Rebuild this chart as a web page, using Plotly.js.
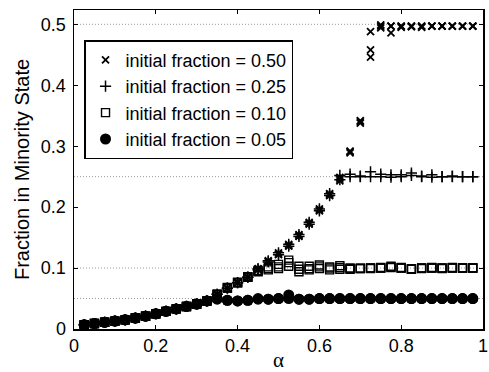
<!DOCTYPE html>
<html>
<head>
<meta charset="utf-8">
<script src="https://cdn.plot.ly/plotly-3.0.1.min.js"></script>
<style>
html,body{margin:0;padding:0;background:#fff;}
#chart{width:489px;height:372px;}
</style>
</head>
<body>
<div id="chart"></div>
<script>
// alpha values (x axis)
const alpha = [0.025,0.05,0.075,0.1,0.125,0.15,0.175,0.2,0.225,0.25,0.275,0.3,0.325,0.35,0.375,0.4,0.425,0.45,0.475,0.5,0.525,0.55,0.575,0.6,0.625,0.65,0.675,0.7,0.725,0.75,0.775,0.8,0.825,0.85,0.875,0.9,0.925,0.95,0.975];

// initial fraction = 0.50 (three runs)
const frac50_run1 = [0.007,0.009,0.011,0.013,0.015,0.018,0.021,0.025,0.029,0.033,0.037,0.041,0.046,0.057,0.067,0.076,0.085,0.097,0.110,0.122,0.136,0.152,0.172,0.194,0.219,0.243,0.292,0.342,0.446,0.497,0.497,0.497,0.497,0.497,0.497,0.497,0.497,0.497,0.497];
const frac50_run2 = [0.007,0.009,0.011,0.013,0.015,0.018,0.021,0.025,0.029,0.033,0.037,0.041,0.046,0.057,0.067,0.076,0.085,0.099,0.112,0.125,0.139,0.155,0.175,0.197,0.222,0.249,0.289,0.338,0.458,0.494,0.486,0.495,0.496,0.495,0.497,0.497,0.497,0.497,0.497];
const frac50_run3 = [0.007,0.009,0.011,0.013,0.015,0.018,0.021,0.025,0.029,0.033,0.037,0.041,0.046,0.057,0.067,0.076,0.085,0.098,0.111,0.123,0.137,0.153,0.173,0.195,0.220,0.246,0.291,0.340,0.488,0.499,0.497,0.497,0.497,0.497,0.497,0.497,0.497,0.497,0.497];

// initial fraction = 0.25 (two runs)
const frac25_run1 = [0.007,0.009,0.011,0.013,0.015,0.018,0.021,0.025,0.029,0.033,0.037,0.041,0.046,0.057,0.067,0.076,0.085,0.097,0.110,0.122,0.136,0.152,0.172,0.194,0.219,0.245,0.250,0.251,0.250,0.250,0.249,0.250,0.252,0.250,0.249,0.250,0.250,0.250,0.250];
const frac25_run2 = [0.007,0.009,0.011,0.013,0.015,0.018,0.021,0.025,0.029,0.033,0.037,0.041,0.046,0.057,0.067,0.076,0.085,0.099,0.112,0.125,0.139,0.155,0.175,0.197,0.222,0.252,0.254,0.250,0.258,0.254,0.253,0.253,0.256,0.251,0.253,0.250,0.251,0.250,0.250];

// initial fraction = 0.10 (three runs)
const frac10_run1 = [0.007,0.009,0.011,0.013,0.015,0.018,0.021,0.025,0.029,0.033,0.037,0.041,0.046,0.057,0.067,0.076,0.085,0.095,0.099,0.102,0.103,0.098,0.099,0.102,0.100,0.101,0.099,0.099,0.100,0.100,0.102,0.100,0.098,0.100,0.100,0.100,0.100,0.100,0.100];
const frac10_run2 = [0.007,0.009,0.011,0.013,0.015,0.018,0.021,0.025,0.029,0.033,0.037,0.041,0.046,0.057,0.068,0.077,0.086,0.096,0.102,0.106,0.109,0.103,0.103,0.105,0.097,0.104,0.100,0.100,0.099,0.101,0.103,0.101,0.099,0.100,0.101,0.100,0.101,0.100,0.100];
const frac10_run3 = [0.007,0.009,0.011,0.013,0.015,0.018,0.021,0.025,0.029,0.033,0.037,0.041,0.046,0.056,0.067,0.076,0.085,0.094,0.097,0.099,0.113,0.094,0.097,0.099,0.102,0.098,0.098,0.099,0.100,0.100,0.101,0.100,0.098,0.099,0.100,0.099,0.100,0.100,0.100];

// initial fraction = 0.05 (two runs)
const frac05_run1 = [0.007,0.009,0.011,0.013,0.015,0.018,0.021,0.025,0.029,0.033,0.037,0.041,0.046,0.050,0.047,0.046,0.047,0.049,0.049,0.050,0.050,0.049,0.049,0.050,0.050,0.050,0.050,0.050,0.050,0.050,0.050,0.050,0.050,0.050,0.050,0.050,0.050,0.050,0.050];
const frac05_run2 = [0.007,0.009,0.011,0.013,0.015,0.018,0.021,0.025,0.029,0.033,0.037,0.041,0.046,0.049,0.047,0.046,0.047,0.050,0.049,0.050,0.056,0.049,0.049,0.050,0.050,0.050,0.050,0.050,0.050,0.050,0.050,0.050,0.050,0.050,0.050,0.050,0.050,0.050,0.050];

const initialFractions = [0.50, 0.25, 0.10, 0.05];
const legendLabels = ['initial fraction = 0.50','initial fraction = 0.25','initial fraction = 0.10','initial fraction = 0.05'];
const xTicks = [0, 0.2, 0.4, 0.6, 0.8, 1];
const xTickText = ['0','0.2','0.4','0.6','0.8','1'];
const yTicks = [0, 0.1, 0.2, 0.3, 0.4, 0.5];
const yTickText = ['0','0.1','0.2','0.3','0.4','0.5'];

const seriesRuns = [
  [frac50_run1, frac50_run2, frac50_run3],
  [frac25_run1, frac25_run2],
  [frac10_run1, frac10_run2, frac10_run3],
  [frac05_run1, frac05_run2]
];
const markerStyles = [
  {symbol:'x-thin-open', size:7, color:'#000', line:{width:1.8, color:'#000'}},
  {symbol:'cross-thin-open', size:8, color:'#000', line:{width:1.5, color:'#000'}},
  {symbol:'square-open', size:8, color:'#000', line:{width:1.4, color:'#000'}},
  {symbol:'circle', size:11, color:'#000', line:{width:0}}
];

const traces = [];
seriesRuns.forEach((runs, s) => {
  runs.forEach((run, r) => {
    traces.push({
      type:'scatter', mode:'markers', x:alpha, y:run,
      name:legendLabels[s], legendgroup:'g'+s, showlegend:r===0,
      marker:markerStyles[s], cliponaxis:false, hoverinfo:'skip'
    });
  });
});

const shapes = initialFractions.map(f => ({
  type:'line', xref:'x', yref:'y', x0:0, x1:1, y0:f, y1:f, layer:'below',
  line:{color:'#9a9a9a', width:1, dash:'1px,2px'}
}));

const fontFam = '"Liberation Sans", Arial, Helvetica, sans-serif';
const layout = {
  width:489, height:372,
  margin:{l:74, r:6, t:10, b:43},
  paper_bgcolor:'#fff', plot_bgcolor:'#fff',
  font:{family:fontFam, size:18, color:'#000'},
  showlegend:true,
  legend:{x:0.025, y:0.905, xanchor:'left', yanchor:'top', bgcolor:'#fff',
    bordercolor:'#000', borderwidth:1.3, font:{family:fontFam, size:18, color:'#000'},
    traceorder:'grouped', tracegroupgap:0, itemwidth:30},
  xaxis:{range:[0,1], tickvals:xTicks, ticktext:xTickText, ticks:'inside', ticklen:4,
    tickwidth:1, tickcolor:'#000', showline:true, linewidth:1.5, linecolor:'#000', mirror:'ticks',
    showgrid:false, zeroline:false, tickfont:{family:fontFam, size:18}, ticklabeloverflow:'allow',
    title:{text:'α', font:{family:'"Liberation Serif", "Times New Roman", serif', size:21}, standoff:1}},
  yaxis:{range:[0,0.5235], tickvals:yTicks, ticktext:yTickText, ticks:'inside', ticklen:4,
    tickwidth:1, tickcolor:'#000', showline:true, linewidth:1.5, linecolor:'#000', mirror:'ticks',
    showgrid:false, zeroline:false, tickfont:{family:fontFam, size:18}, ticklabelstandoff:3,
    title:{text:'Fraction in Minority State', font:{family:fontFam, size:20}, standoff:6}},
  shapes:shapes
};

Plotly.newPlot('chart', traces, layout, {staticPlot:true, displayModeBar:false});
</script>
</body>
</html>
